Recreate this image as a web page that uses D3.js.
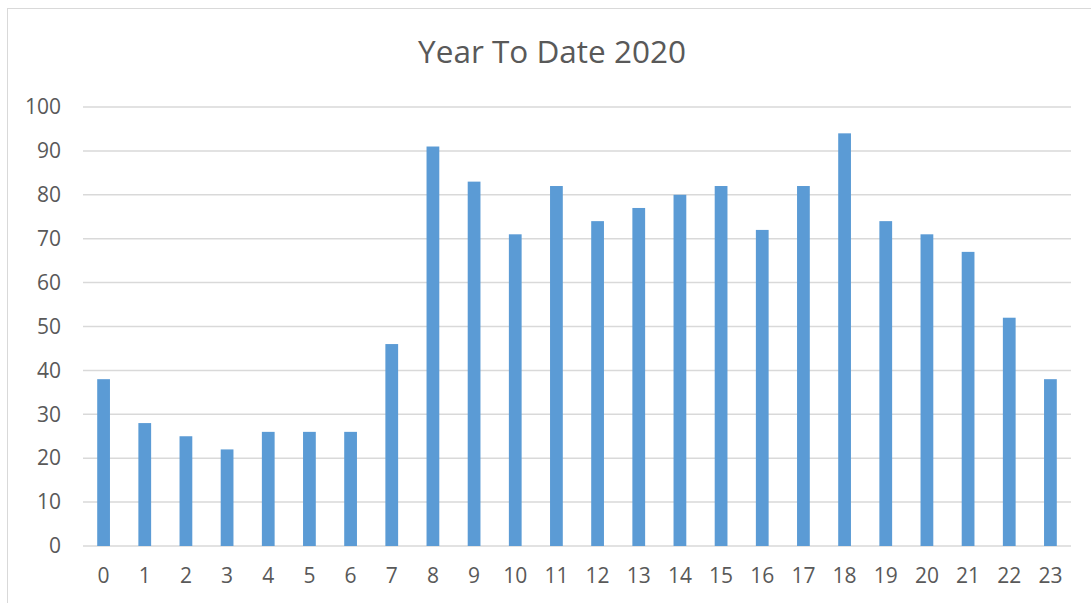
<!DOCTYPE html>
<html>
<head>
<meta charset="utf-8">
<script src="https://cdn.jsdelivr.net/npm/d3@7"></script>
<style>
    html, body { margin: 0; padding: 0; background: #fff; }
    svg text { font-family: "Open Sans", "Liberation Sans", sans-serif; fill: #595959; }
</style>
</head>
<body>
<svg id="chart" width="1091" height="603"></svg>
<script>
// hours of the day and the year-to-date counts
let hours = ["0", "1", "2", "3", "4", "5", "6", "7", "8", "9", "10", "11",
    "12", "13", "14", "15", "16", "17", "18", "19", "20", "21", "22", "23"];
let counts = [38, 28, 25, 22, 26, 26, 26, 46, 91, 83, 71, 82,
    74, 77, 80, 82, 72, 82, 94, 74, 71, 67, 52, 38];
let yTicks = [0, 10, 20, 30, 40, 50, 60, 70, 80, 90, 100];
let title = "Year To Date 2020";

let svg = d3.select("#chart");

let margin = {top: 107, right: 20, bottom: 57, left: 83},
    width = 1071 - margin.left,
    height = 546 - margin.top;

// outer chart border (runs off the right and bottom of the picture)
svg.append("rect")
    .attr("x", 7.5)
    .attr("y", 8.5)
    .attr("width", 1200)
    .attr("height", 700)
    .attr("fill", "none")
    .attr("stroke", "#d9d9d9")
    .attr("stroke-width", 1);

svg.append("text")
    .attr("x", 552)
    .attr("y", 63)
    .attr("text-anchor", "middle")
    .style("font-size", "31.5px")
    .text(title);

let g = svg.append("g").attr("transform", "translate(" + margin.left + "," + margin.top + ")");

let x = d3.scaleBand()
    .domain(hours)
    .range([0, width])
    .paddingInner(0.69)
    .paddingOuter(0.345);

let y = d3.scaleLinear()
    .domain([0, 100])
    .range([height, 0]);

// gridlines
g.append("g")
    .selectAll("line")
    .data(yTicks)
    .enter().append("line")
    .attr("x1", 0)
    .attr("x2", width)
    .attr("y1", d => y(d))
    .attr("y2", d => y(d))
    .attr("stroke", "#d9d9d9")
    .attr("stroke-width", 1.5);

// y axis labels
let yAxis = g.append("g")
    .call(d3.axisLeft(y).tickValues(yTicks).tickSize(0).tickPadding(22));
yAxis.select(".domain").remove();
yAxis.selectAll("text")
    .style("font-size", "21px")
    .attr("fill", "#595959");

// bars
g.selectAll(".bar")
    .data(counts)
    .enter().append("rect")
    .attr("class", "bar")
    .attr("x", (d, i) => x(hours[i]))
    .attr("width", x.bandwidth())
    .attr("y", d => y(d))
    .attr("height", d => height - y(d))
    .attr("fill", "#5b9bd5");

// x axis labels
let xAxis = g.append("g")
    .attr("transform", "translate(0," + height + ")")
    .call(d3.axisBottom(x).tickSize(0).tickPadding(22));
xAxis.select(".domain").remove();
xAxis.selectAll("text")
    .style("font-size", "21px")
    .attr("fill", "#595959");
</script>
</body>
</html>
